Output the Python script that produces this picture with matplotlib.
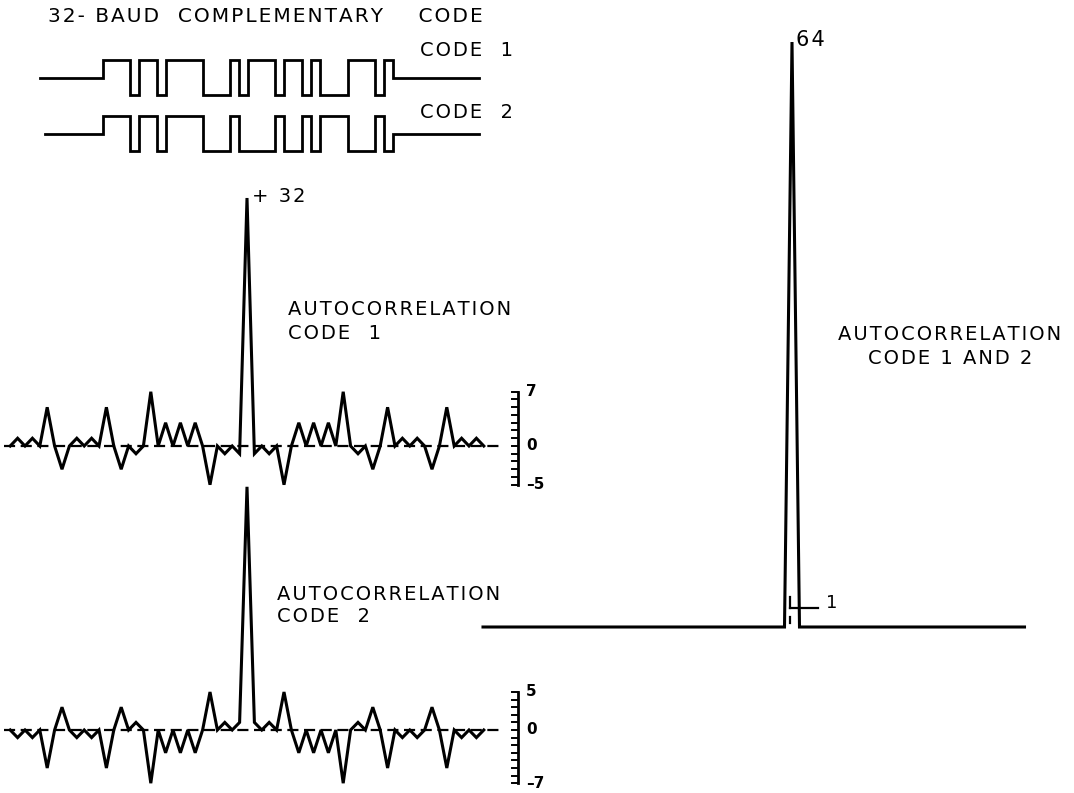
import numpy as np
import matplotlib
matplotlib.use('Agg')
import matplotlib.pyplot as plt

# 32-baud complementary pair
code1 = [1, 1, 1, -1, 1, 1, -1, 1, 1, 1, 1, -1, -1, -1, 1, -1,
         1, 1, 1, -1, 1, 1, -1, 1, -1, -1, -1, 1, 1, 1, -1, 1]
code2 = [1, 1, 1, -1, 1, 1, -1, 1, 1, 1, 1, -1, -1, -1, 1, -1,
         -1, -1, -1, 1, -1, -1, 1, -1, 1, 1, 1, -1, -1, -1, 1, -1]

# autocorrelation values, lags -31 .. 31
lags = list(range(-31, 32))
ac1 = [1, 0, 1, 0, 5, 0, -3, 0, 1, 0, 1, 0, 5, 0, -3, 0, -1, 0, 7, 0, 3, 0, 3, 0, 3, 0, -5, 0, -1, 0, -1,
       32,
       -1, 0, -1, 0, -5, 0, 3, 0, 3, 0, 3, 0, 7, 0, -1, 0, -3, 0, 5, 0, 1, 0, 1, 0, -3, 0, 5, 0, 1, 0, 1]
ac2 = [-1, 0, -1, 0, -5, 0, 3, 0, -1, 0, -1, 0, -5, 0, 3, 0, 1, 0, -7, 0, -3, 0, -3, 0, -3, 0, 5, 0, 1, 0, 1,
       32,
       1, 0, 1, 0, 5, 0, -3, 0, -3, 0, -3, 0, -7, 0, 1, 0, 3, 0, -5, 0, -1, 0, -1, 0, 3, 0, -5, 0, -1, 0, -1]
ac_sum = [a + b for a, b in zip(ac1, ac2)]

W, H = 1074, 793
fig = plt.figure(figsize=(W / 100, H / 100), dpi=100)
plt.rcParams['font.family'] = ['DejaVu Sans']
LW = 2.2


def box(x0, y0, x1, y1):
    # pixel box -> figure fraction
    return [x0 / W, 1 - y1 / H, (x1 - x0) / W, (y1 - y0) / H]


def spaced(s, n=1):
    # stencil lettering is widely tracked
    return ('\u200a' * n).join(s)


def label(x, y, s, size=14, ha='left', n=1):
    fig.text(x / W, 1 - y / H, spaced(s, n), fontsize=size, ha=ha, va='center',
             color='black')


def bare(ax):
    ax.set_axis_off()


# ---- code waveforms ----
ax = fig.add_axes(box(35, 50, 488, 160))
bare(ax)
ax.set_xlim(-7.5, 42.5)
ax.set_ylim(-4.69, 1.6)
bauds = np.arange(33)
for code, off, start in [(code1, 0.0, -7.0), (code2, -3.2, -6.4)]:
    xs = np.concatenate([[start], bauds, [41.5]])
    ys = np.array([0] + code + [0, 0]) + off
    ax.step(xs, ys, where='post', color='black', lw=2.0, solid_joinstyle='miter')


def corr_panel(y_zero, y_top, y_bot, vals, lo, hi, py):
    px = 7.4   # pixels per lag
    ax = fig.add_axes(box(0, y_top, 560, y_bot))
    bare(ax)
    ax.set_xlim(-247 / px, (560 - 247) / px)
    ax.set_ylim((y_zero - y_bot) / py, (y_zero - y_top) / py)
    ax.plot([-32.8, 34.2], [0, 0], color='black', lw=1.6, dashes=(5, 2.5))
    ax.plot([-32] + lags + [32], [0] + vals + [0], color='black', lw=LW,
            solid_joinstyle='miter')
    # scale bar
    xb = (518 - 247) / px
    xt = (512 - 247) / px
    ax.plot([xb, xb], [lo, hi], color='black', lw=2.0)
    for v in range(lo, hi + 1):
        ax.plot([xt, xb], [v, v], color='black', lw=1.4)
    for v in (lo, 0, hi):
        ax.text((526 - 247) / px, v, str(v).replace('-', '\u2013'), fontsize=11,
                ha='left', va='center', fontweight='bold')
    return ax


corr_panel(446, 180, 495, ac1, -5, 7, 7.75)
corr_panel(730, 470, 793, ac2, -7, 5, 7.6)

# ---- sum of autocorrelations ----
ax = fig.add_axes(box(470, 20, 1074, 650))
bare(ax)
px, py = 7.5, 9.14
ax.set_xlim((470 - 792) / px, (1074 - 792) / px)
ax.set_ylim((627 - 650) / py, (627 - 20) / py)
ax.plot([-41.2] + lags, [0] + ac_sum, color='black', lw=LW, solid_joinstyle='miter')
ax.plot([31, 31.1], [0, 0], color='black', lw=LW)
ax.plot([-0.25, -0.25], [2.1, 3.3], color='black', lw=1.6)
ax.plot([-0.25, -0.25], [0.4, 1.1], color='black', lw=1.6)
ax.plot([-0.25, 3.5], [2.1, 2.1], color='black', lw=1.6)
ax.text(4.6, 2.6, '1', fontsize=13, ha='left', va='center')

# ---- text ----
label(48, 17, '32- BAUD  COMPLEMENTARY    CODE', size=14.5)
label(420, 50, 'CODE  1')
label(420, 113, 'CODE  2')
label(252, 197, '+ 32')
label(288, 310, 'AUTOCORRELATION')
label(288, 333, 'CODE  1')
label(277, 594, 'AUTOCORRELATION')
label(277, 617, 'CODE  2')
label(796, 40, '64', size=15)
label(950, 335, 'AUTOCORRELATION', ha='center')
label(950, 358, 'CODE 1 AND 2', ha='center')

fig.savefig('out.png', dpi=100, facecolor='white')
